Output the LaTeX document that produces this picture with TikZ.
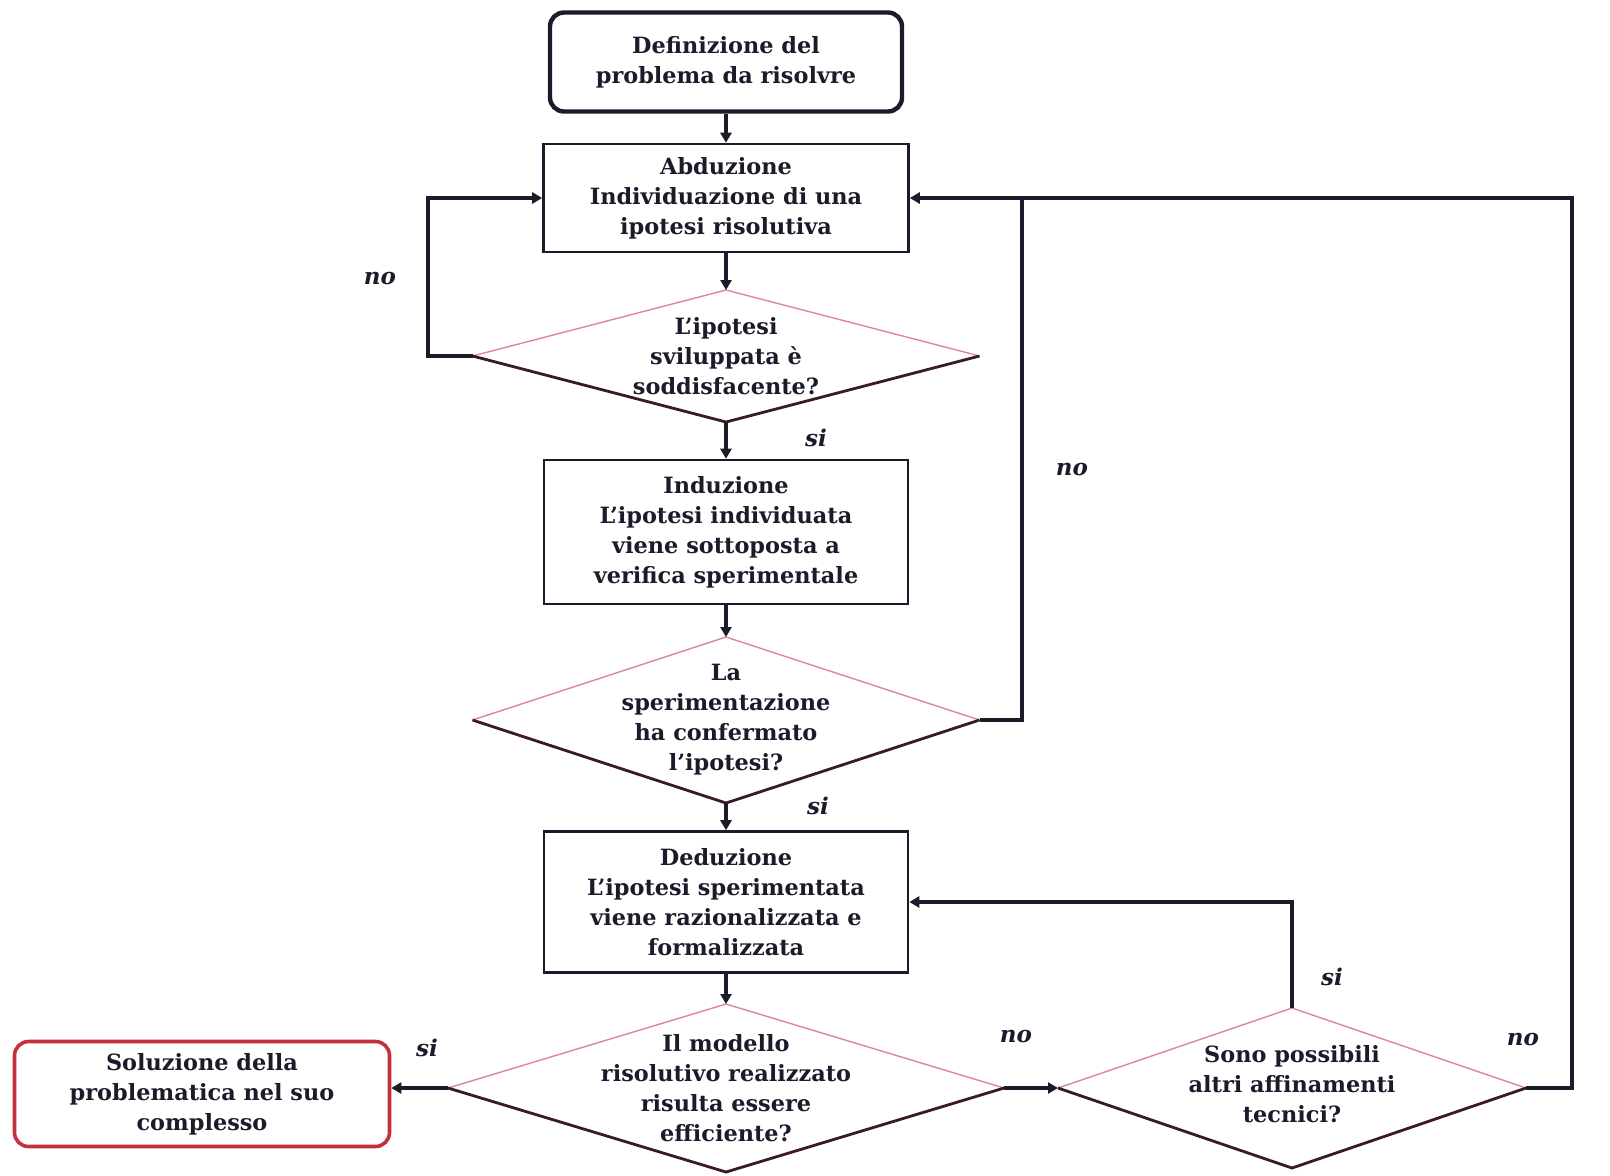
\documentclass[tikz,border=0pt]{standalone}
\usepackage{fontspec}
\setmainfont{DejaVu Serif}
\usetikzlibrary{shapes.geometric, arrows.meta}
\definecolor{ink}{HTML}{1B1B2B}
\definecolor{solred}{HTML}{C4313B}
\definecolor{pinkedge}{HTML}{D98A94}
\definecolor{darkedge}{HTML}{3B1A24}
\begin{document}
\begin{tikzpicture}[x=0.5pt,y=-0.5pt,
  txt/.style={font=\bfseries\fontsize{11.2}{15}\selectfont, text=ink, align=center, inner sep=0pt},
  box/.style={txt, draw=ink, line width=1.3pt, fill=white},
  startbox/.style={txt, draw=ink, line width=2.2pt, fill=white, rounded corners=7pt},
  solbox/.style={txt, draw=solred, line width=1.8pt, fill=white, rounded corners=7pt},
  dia/.style={diamond, draw=none, fill=white, inner sep=0pt, outer sep=0pt},
  dtop/.style={draw=pinkedge, line width=0.7pt},
  dbot/.style={draw=darkedge, line width=1.4pt},
  conn/.style={draw=ink, line width=1.8pt},
  arr/.style={conn, -{Triangle[length=5pt,width=5.5pt]}},
  lab/.style={font=\bfseries\itshape\fontsize{11.5}{13}\selectfont, text=ink, inner sep=0pt}
]
\useasboundingbox[fill=white] (0,0) rectangle (1610,1175);

% boxes
\node[startbox, minimum width=176pt, minimum height=49.5pt] (start) at (726,62) {Definizione del\\problema da risolvre};
\node[box, minimum width=182.5pt, minimum height=54pt] (abd) at (726,198) {Abduzione\\Individuazione di una\\ipotesi risolutiva};
\node[box, minimum width=182pt, minimum height=72pt] (ind) at (726,532) {Induzione\\L’ipotesi individuata\\viene sottoposta a\\verifica sperimentale};
\node[box, minimum width=182pt, minimum height=70.5pt] (ded) at (726,902) {Deduzione\\L’ipotesi sperimentata\\viene razionalizzata e\\formalizzata};
\node[solbox, minimum width=187.5pt, minimum height=52.5pt] (sol) at (202,1094) {Soluzione della\\problematica nel suo\\complesso};

% diamonds
\node[dia, minimum width=253.5pt, minimum height=66pt] (d1) at (726,356) {};
\node[dia, minimum width=253.5pt, minimum height=83pt] (d2) at (726,720) {};
\node[dia, minimum width=278pt, minimum height=84pt] (d3) at (726,1088) {};
\node[dia, minimum width=234pt, minimum height=80pt] (d4) at (1292,1088) {};
\foreach \d in {d1,d2,d3,d4}{
  \draw[dtop] (\d.west) -- (\d.north) -- (\d.east);
  \draw[dbot] (\d.west) -- (\d.south) -- (\d.east);
}
\node[txt] (d1t) at (d1) {L’ipotesi\\sviluppata è\\soddisfacente?};
\node[txt] (d2t) at (d2) {La\\sperimentazione\\ha confermato\\l’ipotesi?};
\node[txt] (d3t) at (d3) {Il modello\\risolutivo realizzato\\risulta essere\\efficiente?};
\node[txt] (d4t) at (1292,1084) {Sono possibili\\altri affinamenti\\tecnici?};

% loop corner coordinates
\coordinate (cl) at (428,356);
\coordinate (cr) at (1022,198);
\coordinate (cfr) at (1572,198);

% main flow
\draw[arr] (start) -- (abd);
\draw[arr] (abd) -- (d1.north);
\draw[arr] (d1.south) -- (ind);
\draw[arr] (ind) -- (d2.north);
\draw[arr] (d2.south) -- (ded);
\draw[arr] (ded) -- (d3.north);

% branches
\draw[arr] (d1.west) -- (cl) |- (abd.west);
\draw[arr] (d2.east) -| (cr) -- (abd.east);
\draw[conn] (d4.east) -| (cfr) -- (cr);
\draw[arr] (d4.north) |- (ded.east);
\draw[arr] (d3.east) -- (d4.west);
\draw[arr] (d3.west) -- (d3.west -| sol.east);

% labels
\node[lab] (lno1) at (380,279) {no};
\node[lab] (lsi1) at (816,438) {si};
\node[lab] (lno2) at (1072,470) {no};
\node[lab] (lsi2) at (818,806) {si};
\node[lab] (lsi3) at (427,1048) {si};
\node[lab] (lno3) at (1016,1037) {no};
\node[lab] (lsi4) at (1332,977) {si};
\node[lab] (lno4) at (1523,1040) {no};
\end{tikzpicture}
\end{document}
